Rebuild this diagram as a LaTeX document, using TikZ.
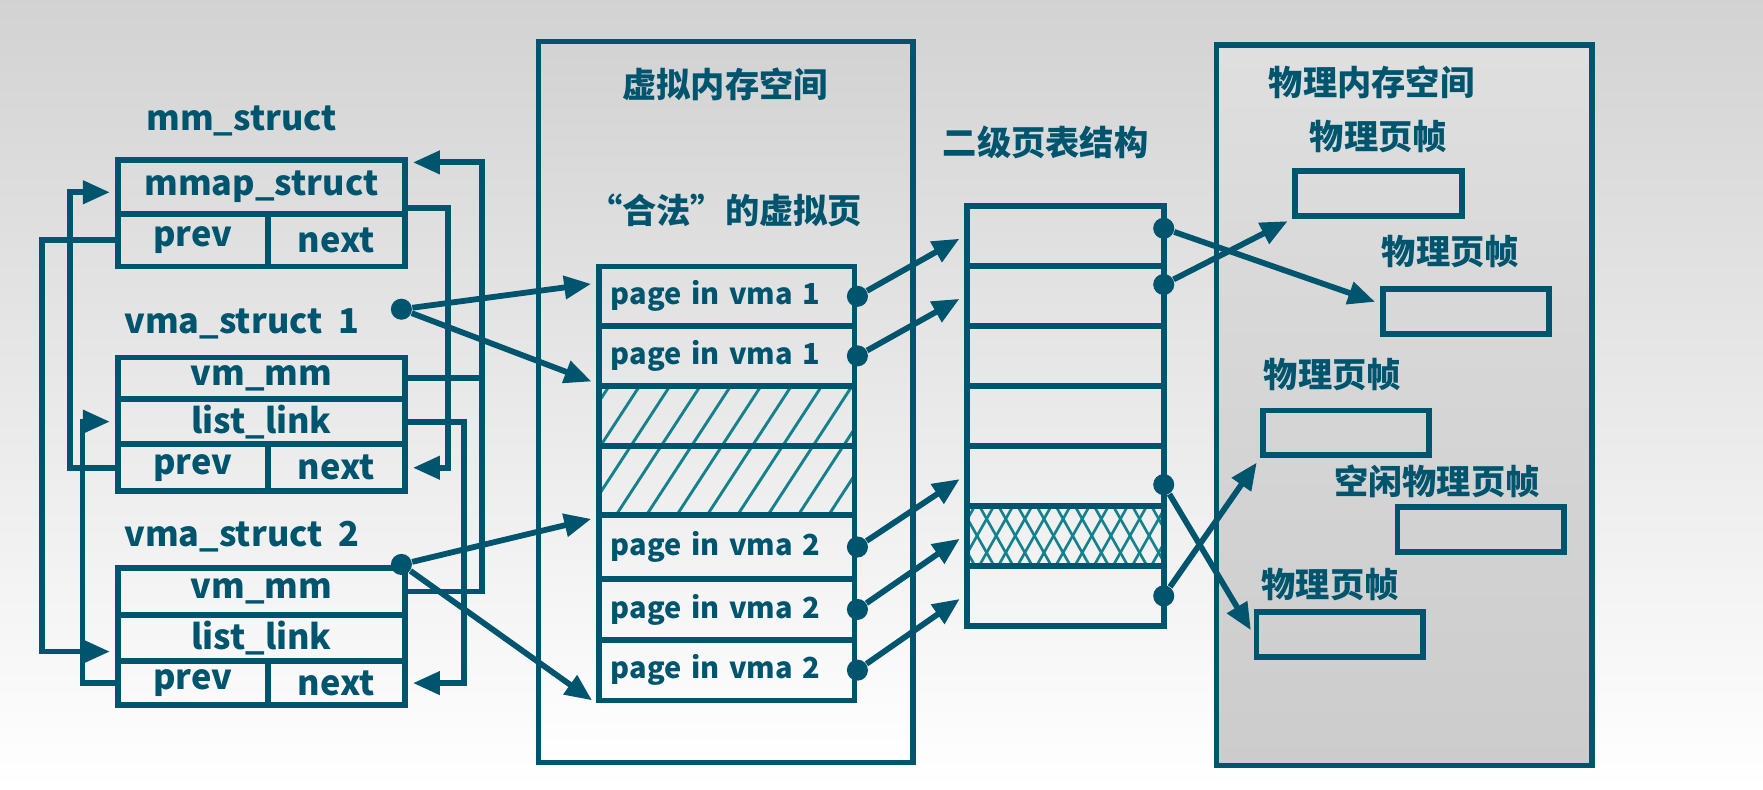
\documentclass[tikz,border=0pt]{standalone}
\usepackage{fontspec}
\setmainfont{Noto Sans CJK SC}
\usetikzlibrary{arrows.meta}
\usetikzlibrary{calc}

\definecolor{teal}{RGB}{0,85,110}
\definecolor{hatch}{RGB}{20,130,140}

\tikzset{
  cell/.style={draw=teal,line width=2.2pt,inner sep=0pt,text=teal,font=\fontsize{13}{15}\selectfont\bfseries},
  page/.style={cell,minimum width=3.405cm,minimum height=0.795cm,text width=3.1cm,align=left,font=\fontsize{11}{13}\selectfont\bfseries},
  row/.style={draw=teal,line width=2.2pt,minimum width=2.625cm,minimum height=0.8cm},
  frame/.style={draw=teal,line width=2.2pt,minimum width=2.22cm,minimum height=0.6cm},
  panel/.style={draw=teal,line width=2pt},
  label/.style={text=teal,font=\fontsize{13}{15}\selectfont\bfseries},
  link/.style={teal,line width=2.2pt},
  tip/.style={link,-{Triangle[length=3.6mm,width=3mm]},shorten >=2pt},
  dot/.style={circle,fill=teal,inner sep=0pt,minimum size=8pt}
}

\begin{document}
\begin{tikzpicture}[x=0.015cm,y=-0.015cm]

  % background
  \shade[top color=gray!35,middle color=gray!15,bottom color=white] (0,0) rectangle (1568,702);
  \useasboundingbox (0,0) rectangle (1568,702);

  % panels
  \shade[top color=gray!35,bottom color=white] (479,37) rectangle (812,678);
  \draw[panel] (479,37) rectangle (812,678);
  \shade[top color=gray!25,bottom color=gray!40] (1082,40) rectangle (1416,681);
  \draw[panel] (1082,40) rectangle (1416,681);

  % mm_struct
  \node[label] (mmlabel) at (215,108) {mm\_struct};
  \node[cell,minimum width=3.825cm,minimum height=0.72cm] (mmap) at (232.5,166) {mmap\_struct};
  \node[cell,minimum width=1.995cm,minimum height=0.705cm] (mmprev) at (171.5,213.5) {prev};
  \node[cell,minimum width=1.83cm,minimum height=0.705cm] (mmnext) at (299,213.5) {next};

  % vma_struct 1
  \node[label] (v1label) at (215,288) {vma\_struct\ \ 1};
  \node[cell,minimum width=3.825cm,minimum height=0.555cm] (vm1) at (232.5,336.5) {vm\_mm};
  \node[cell,minimum width=3.825cm,minimum height=0.6cm] (list1) at (232.5,375) {list\_link};
  \node[cell,minimum width=1.995cm,minimum height=0.63cm] (prev1) at (171.5,416) {prev};
  \node[cell,minimum width=1.83cm,minimum height=0.63cm] (next1) at (299,416) {next};

  % vma_struct 2
  \node[label] (v2label) at (215,477) {vma\_struct\ \ 2};
  \node[cell,minimum width=3.825cm,minimum height=0.63cm] (vm2) at (232.5,526) {vm\_mm};
  \node[cell,minimum width=3.825cm,minimum height=0.615cm] (list2) at (232.5,567.5) {list\_link};
  \node[cell,minimum width=1.995cm,minimum height=0.585cm] (prev2) at (171.5,607.5) {prev};
  \node[cell,minimum width=1.83cm,minimum height=0.585cm] (next2) at (299,607.5) {next};

  % list links
  \draw[tip] (mmprev.west) -- ++(-65,0) |- ($(list2.west)+(0,12)$);
  \draw[tip] (prev1.west) -- ++(-40,0) |- ($(mmap.west)+(0,5)$);
  \draw[tip] (prev2.west) -- ++(-29,0) |- (list1.west);
  \draw[tip] ($(mmap.east)+(0,19)$) -- ++(36,0) |- (next1.east);
  \draw[tip] (vm1.east) -- ++(66,0) |- ($(mmap.north east)+(0,5)$);
  \draw[link] (vm2.east) -- ++(66,0) |- (vm1.east);
  \draw[tip] (list1.east) -- ++(50,0) |- (next2.east);

  % virtual pages
  \node[label] (vtitle) at (645,75) {虚拟内存空间};
  \node[label] (legal) at (645,187) {“合法”的虚拟页};
  \node[page] (p1) at (646.5,263.5) {page in vma 1};
  \node[page] (p2) at (646.5,316.5) {page in vma 1};
  \begin{scope}
    \clip (533,343) rectangle (760,458);
    \foreach \x in {440,467,...,800}
      \draw[hatch,line width=1.1pt] (\x,458) -- (\x+75,343);
  \end{scope}
  \node[page] (h1) at (646.5,370) {};
  \node[page,minimum height=0.915cm] (h2) at (646.5,427.5) {};
  \node[page,minimum height=0.855cm] (p3) at (646.5,486.5) {page in vma 2};
  \node[page,minimum height=0.81cm] (p4) at (646.5,542) {page in vma 2};
  \node[page,minimum height=0.81cm] (p5) at (646.5,596) {page in vma 2};

  \node[dot] (v1) at (357,275) {};
  \node[dot] (v2) at (357,502) {};
  \draw[tip] (v1) -- ($(p1.north west)!0.3!(p1.south west)$);
  \draw[tip] (v1) -- (h1.north west);
  \draw[tip] (v2) -- ($(p3.north west)+(0,5)$);
  \draw[tip] (v2) -- (p5.south west);

  % page table
  \node[label] (ttitle) at (930,127) {二级页表结构};
  \node[row] (t1) at (947.5,210) {};
  \node[row] (t2) at (947.5,263.5) {};
  \node[row] (t3) at (947.5,316.5) {};
  \node[row] (t4) at (947.5,370) {};
  \node[row] (t5) at (947.5,423.5) {};
  \begin{scope}
    \clip (860,450) rectangle (1035,503);
    \foreach \x in {820,837,...,1060} {
      \draw[hatch,line width=1pt] (\x,503) -- (\x+30,450);
      \draw[hatch,line width=1pt] (\x,450) -- (\x+30,503);
    }
  \end{scope}
  \node[row] (t6) at (947.5,476.5) {};
  \node[row] (t7) at (947.5,530) {};

  \foreach \p/\t in {p1/t1,p2/t2,p3/t5,p4/t6,p5/t7} {
    \node[dot] (d\p) at (\p.east) {};
    \draw[tip] (d\p) -- (\t.west);
  }

  % physical frames
  \node[label] (ptitle) at (1220,73) {物理内存空间};
  \node[label] (l1) at (1226,121) {物理页帧};
  \node[frame] (f1) at (1226,172) {};
  \node[label] (l2) at (1290,224) {物理页帧};
  \node[frame] (f2) at (1304,277) {};
  \node[label] (l3) at (1185,333) {物理页帧};
  \node[frame] (f3) at (1197,385) {};
  \node[label] (l4) at (1278,428) {空闲物理页帧};
  \node[frame] (f4) at (1317,471) {};
  \node[label] (l5) at (1183,520) {物理页帧};
  \node[frame] (f5) at (1191.5,564.5) {};

  \node[dot] (e1) at (1035,203) {};
  \node[dot] (e2) at (1035,253) {};
  \node[dot] (e3) at (1035,431) {};
  \node[dot] (e4) at (1035,530) {};
  \draw[tip] (e1) -- ($(f2.west)+(0,-7)$);
  \draw[tip] (e2) -- (f1.south west);
  \draw[tip] (e3) -- (f5.west);
  \draw[tip] (e4) -- (f3.south west);

\end{tikzpicture}
\end{document}
